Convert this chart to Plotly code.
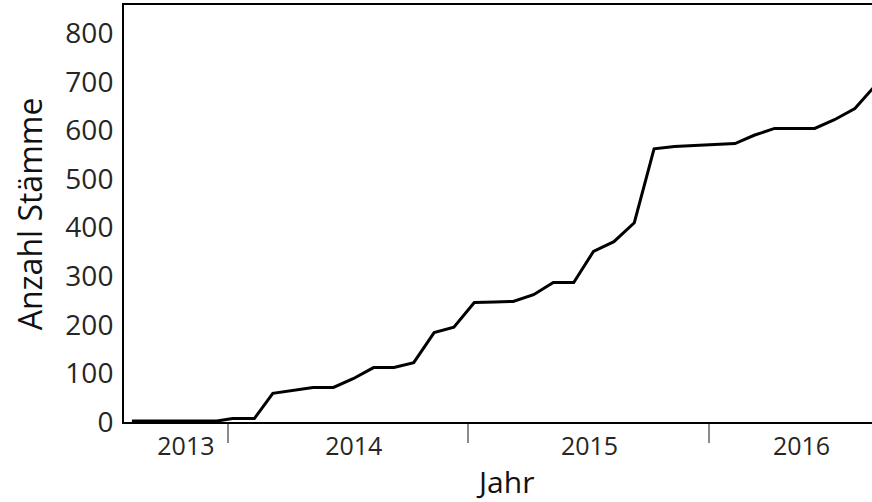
import plotly.graph_objects as go

# Data (monthly cumulative count)
dates = [
    "2013-08-08", "2013-12-15",
    "2014-01-08", "2014-02-10", "2014-03-10", "2014-04-10", "2014-05-10", "2014-06-10",
    "2014-07-10", "2014-08-10", "2014-09-10", "2014-10-10", "2014-11-10", "2014-12-10",
    "2015-01-10", "2015-02-10", "2015-03-10", "2015-04-10", "2015-05-10", "2015-06-10",
    "2015-07-10", "2015-08-10", "2015-09-10", "2015-10-10", "2015-11-10", "2015-12-10",
    "2016-01-10", "2016-02-10", "2016-03-10", "2016-04-10", "2016-05-10", "2016-06-10",
    "2016-07-10", "2016-08-10", "2016-09-10",
]
counts = [
    2, 2,
    7, 7, 59, 65, 71, 71,
    89, 112, 112, 122, 184, 195,
    246, 247, 248, 262, 287, 287,
    351, 371, 410, 562, 567, 569,
    571, 573, 590, 604, 604, 604,
    622, 645, 692,
]

year_labels = ["2013", "2014", "2015", "2016"]
year_label_pos = ["2013-10-29", "2014-07-11", "2015-07-04", "2016-05-21"]
year_bounds = ["2014-01-01", "2015-01-01", "2016-01-01"]

y_ticks = [0, 100, 200, 300, 400, 500, 600, 700, 800]

FONT = "Open Sans"
TXT = "#262626"

fig = go.Figure()
fig.add_trace(go.Scatter(
    x=dates, y=counts, mode="lines",
    line=dict(color="black", width=3),
    showlegend=False, hoverinfo="skip",
))

fig.update_layout(
    width=872, height=502,
    margin=dict(l=124, r=0, t=5, b=80),
    paper_bgcolor="white", plot_bgcolor="white",
    font=dict(family=FONT, color=TXT),
    xaxis=dict(
        type="date", automargin=False,
        range=["2013-07-27", "2016-09-05"],
        showgrid=False, zeroline=False,
        showline=True, linecolor="black", linewidth=2, mirror=True,
        tickmode="array", tickvals=year_label_pos, ticktext=year_labels,
        ticks="", tickfont=dict(size=25, color=TXT, family=FONT),
        ticklabelstandoff=1,
        minor=dict(tickmode="array", tickvals=year_bounds, ticks="outside",
                   ticklen=19, tickwidth=2, tickcolor="#8a8a8a", showgrid=False),
    ),
    yaxis=dict(
        automargin=False,
        range=[0, 858],
        showgrid=False, zeroline=False,
        showline=True, linecolor="black", linewidth=2, mirror=False,
        tickmode="array", tickvals=y_ticks,
        ticks="", tickfont=dict(size=28, color=TXT, family=FONT),
        ticklabelstandoff=3,
    ),
    annotations=[
        dict(text="Anzahl Stämme", xref="paper", yref="paper",
             x=-0.126, y=0.5, textangle=-90, showarrow=False,
             xanchor="center", yanchor="middle",
             font=dict(size=32, color="#111", family=FONT)),
        dict(text="Jahr", xref="paper", yref="paper",
             x=0.509, y=-0.0887, showarrow=False,
             xanchor="center", yanchor="top",
             font=dict(size=30, color="#111", family=FONT)),
    ],
)

fig.write_html(
    "out.html",
    config={"displayModeBar": False},
    post_script=(
        "document.body.style.margin='0';"
        "document.body.style.overflow='hidden';"
        "document.documentElement.style.overflow='hidden';"
    ),
)
